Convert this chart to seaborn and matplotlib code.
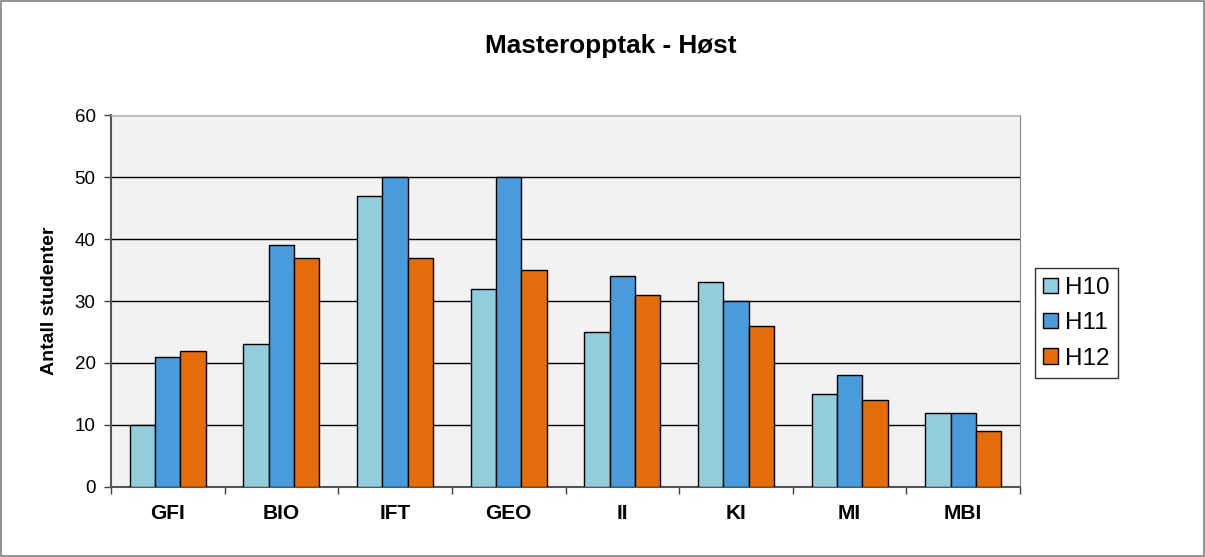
"""
Masteropptak - Høst: grouped bar chart of admitted master students per unit.
"""

import matplotlib.pyplot as plt
import pandas as pd
import seaborn as sns
from matplotlib.patches import Rectangle
from matplotlib.ticker import FixedLocator

# ---------------------------------------------------------------------------
# Data
# ---------------------------------------------------------------------------

units = ["GFI", "BIO", "IFT", "GEO", "II", "KI", "MI", "MBI"]
semesters = ["H10", "H11", "H12"]
h10 = [10, 23, 47, 32, 25, 33, 15, 12]
h11 = [21, 39, 50, 50, 34, 30, 18, 12]
h12 = [22, 37, 37, 35, 31, 26, 14, 9]
y_ticks = [0, 10, 20, 30, 40, 50, 60]

colors = ["#92CDDC", "#4A9BDC", "#E46C0A"]

df = pd.DataFrame({
    "unit": units * 3,
    "semester": [s for s in semesters for _ in units],
    "count": h10 + h11 + h12,
})

# ---------------------------------------------------------------------------
# Plot
# ---------------------------------------------------------------------------

sns.set_style("white")
plt.rcParams["font.family"] = ["Liberation Sans", "DejaVu Sans"]
plt.rcParams["text.color"] = "black"
plt.rcParams["xtick.color"] = "black"
plt.rcParams["ytick.color"] = "black"
plt.rcParams["axes.labelcolor"] = "black"

fig = plt.figure(figsize=(12.05, 5.57), dpi=100)
ax = fig.add_axes([0.0921, 0.1257, 0.7544, 0.6678])
ax.set_facecolor("#F2F2F2")

sns.barplot(
    data=df, x="unit", y="count", hue="semester",
    order=units, hue_order=semesters, palette=colors, saturation=1,
    width=0.67, gap=0, edgecolor="black", linewidth=1.0,
    ax=ax, zorder=3,
)

ax.set_ylim(0, 60)
ax.set_xlim(-0.5, len(units) - 0.5)
ax.set_yticks(y_ticks)
ax.yaxis.grid(True, color="black", linewidth=1.0, zorder=1)
ax.set_axisbelow(True)

ax.tick_params(axis="y", which="major", length=5, width=1, color="#404040",
               labelsize=13.5, pad=6, left=True)
ax.tick_params(axis="x", which="major", length=0, labelsize=15, pad=12)
ax.xaxis.set_minor_locator(FixedLocator([i - 0.5 for i in range(len(units) + 1)]))
ax.tick_params(axis="x", which="minor", length=5, width=1, color="#404040",
               bottom=True)
for lab in ax.get_xticklabels():
    lab.set_fontweight("bold")

ax.set_xlabel("")
ax.set_ylabel("Antall studenter", fontsize=14, fontweight="bold", labelpad=12)

for side in ["left", "bottom"]:
    ax.spines[side].set_color("#555555")
    ax.spines[side].set_linewidth(1.5)
ax.spines["top"].set_color("#BBBBBB")
ax.spines["right"].set_color("#888888")

fig.text(0.507, 0.917, "Masteropptak - Høst", ha="center", va="center",
         fontsize=18.8, fontweight="bold")

leg = ax.legend(
    loc="center left", bbox_to_anchor=(1.0, 0.44), frameon=True,
    fancybox=False, edgecolor="black", fontsize=17.5, handlelength=0.6,
    handleheight=0.6, handletextpad=0.3, labelspacing=0.55,
    borderpad=0.35, borderaxespad=0.6, title=None,
)
leg.get_frame().set_linewidth(1.0)

fig.patches.append(Rectangle((0.001, 0.001), 0.998, 0.997,
                             transform=fig.transFigure, fill=False,
                             edgecolor="#808080", linewidth=1.2))

fig.savefig("out.png", dpi=100)
